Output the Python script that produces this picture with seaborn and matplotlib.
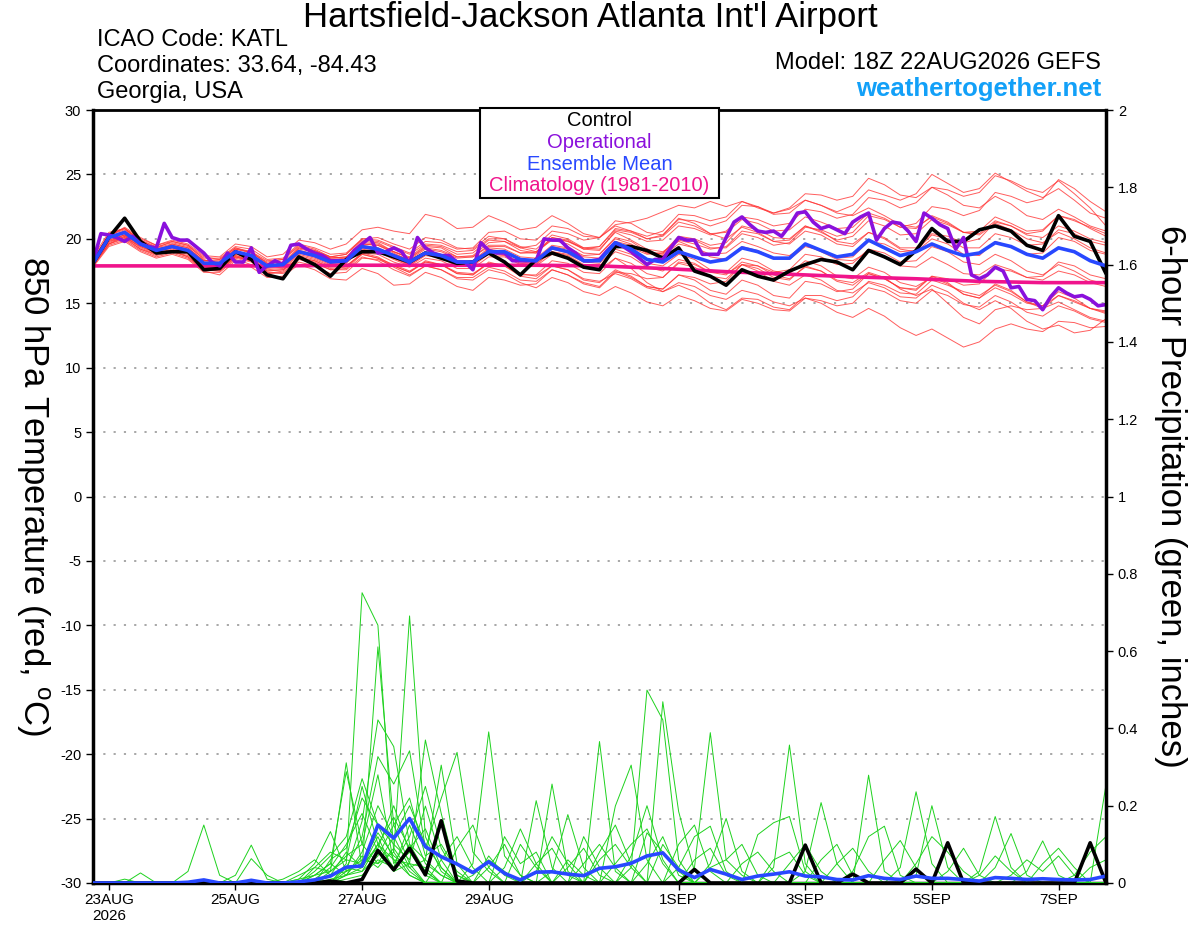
import matplotlib
matplotlib.use("Agg")
import matplotlib.pyplot as plt
import pandas as pd
import seaborn as sns
from matplotlib.patches import Rectangle

# GEFS 18Z 22AUG2026 run, 6-hourly steps out to 384 h
hours = list(range(0, 385, 6))
op_hours = list(range(0, 385, 3))      # operational run is 3-hourly
clim_hours = list(range(0, 385, 24))

tick_hours = [6, 54, 102, 150, 222, 270, 318, 366]
tick_labels = ["23AUG\n2026", "25AUG", "27AUG", "29AUG", "1SEP", "3SEP", "5SEP", "7SEP"]

# 850 hPa temperature, deg C
control_t = [18.1, 20.1, 21.6, 19.8, 18.9, 19.0, 19.0, 17.6, 17.7, 19.0, 18.4, 17.2, 16.9,
             18.6, 18.0, 17.1, 18.4, 19.0, 19.0, 18.6, 18.2, 18.9, 18.5, 18.1, 18.2, 18.9,
             18.2, 17.2, 18.4, 18.9, 18.5, 17.8, 17.6, 19.4, 19.4, 19.1, 18.5, 19.3, 17.5,
             17.1, 16.4, 17.6, 17.1, 16.8, 17.5, 18.0, 18.4, 18.2, 17.6, 19.1, 18.6, 18.0,
             19.1, 20.8, 19.8, 19.8, 20.7, 21.0, 20.6, 19.5, 19.1, 21.8, 20.2, 19.8, 17.3]

operational_t = [18.2, 20.4, 20.3, 20.1, 19.8, 20.2, 19.6, 19.4, 19.3, 21.2,
                 20.1, 19.9, 19.9, 19.4, 18.9, 18.2, 17.9, 18.9, 18.2, 18.2,
                 19.3, 17.4, 17.9, 18.3, 18.0, 19.5, 19.6, 19.2, 18.9, 18.7,
                 18.3, 18.3, 18.3, 19.1, 19.6, 20.1, 18.9, 19.0, 19.3, 19.0,
                 18.1, 20.1, 19.3, 18.9, 18.7, 18.7, 18.2, 18.2, 17.6, 19.7,
                 19.1, 18.9, 18.9, 18.3, 18.3, 18.3, 18.3, 20.0, 19.9, 19.9,
                 19.3, 18.9, 18.3, 18.3, 18.4,
                 19.1, 19.7, 19.4, 19.0, 18.5, 18.0, 18.4, 18.4, 19.3, 20.1,
                 19.9, 19.9, 18.8, 18.8, 18.8, 20.1, 21.3, 21.7, 21.1, 20.6,
                 20.5, 20.6, 20.2, 21.0, 22.0, 22.1, 21.3, 20.8, 21.0, 20.7,
                 20.4, 21.3, 21.7, 22.0, 19.9, 20.8, 21.3, 21.2, 20.6, 19.8,
                 22.0, 21.6, 21.1, 20.8, 19.2, 20.1, 17.2, 16.9, 17.2, 17.8,
                 17.5, 16.2, 16.3, 15.3, 15.2, 14.5, 15.5, 16.2, 15.8, 15.5,
                 15.6, 15.3, 14.8, 14.9]

mean_t = [18.1, 20.1, 20.5, 19.6, 19.1, 19.4, 19.1, 18.1, 18.1, 19.0, 18.7, 17.9, 18.0,
          19.0, 18.7, 18.2, 18.3, 19.4, 19.2, 18.7, 18.2, 18.9, 18.7, 18.2, 18.2, 19.0,
          19.0, 18.4, 18.3, 19.3, 19.0, 18.3, 18.3, 19.7, 19.2, 18.4, 18.2, 19.0, 18.6,
          18.2, 18.4, 19.3, 19.0, 18.5, 18.5, 19.6, 19.1, 18.6, 18.8, 19.9, 19.3, 18.7,
          19.0, 19.6, 19.1, 18.7, 18.9, 19.7, 19.4, 18.8, 18.5, 19.3, 19.0, 18.3, 17.9]

clim_t = [17.9, 17.9, 17.9, 17.9, 17.95, 17.95, 17.95, 17.95, 17.9, 17.7, 17.45,
          17.25, 17.05, 16.9, 16.7, 16.6, 16.6]

member_t = [
    [18.3, 20.4, 20.8, 19.9, 19.3, 19.8, 19.5, 18.4, 18.0, 19.2, 19.0, 18.1, 17.9,
     19.3, 19.1, 18.6, 18.5, 19.8, 19.7, 19.0, 18.5, 19.4, 19.3, 18.6, 18.7, 19.7, 19.8, 19.1, 18.9, 20.1, 19.9, 19.2, 19.1,
     20.6, 20.3, 19.8, 19.9, 21.0, 20.8, 20.3, 20.6, 21.7, 21.5, 21.0, 21.2, 22.3, 22.1, 21.6, 21.9,
     23.2, 23.0, 22.4, 22.8, 24.0, 23.8, 23.3, 23.6, 24.9, 24.5, 23.9, 23.6, 24.5, 23.5, 22.4, 21.0],
    [18.0, 19.6, 20.0, 19.2, 18.8, 19.0, 18.6, 17.6, 17.5, 18.5, 18.2, 17.3, 17.4,
     18.4, 18.1, 17.6, 17.7, 18.8, 18.5, 18.0, 17.5, 18.2, 18.0, 17.4, 17.3, 18.1, 18.0, 17.3, 17.1, 17.9, 17.6, 16.9, 16.7,
     17.3, 16.9, 16.2, 15.9, 16.6, 16.3, 15.6, 15.3, 16.0, 15.7, 15.1, 14.8, 15.4, 15.0, 14.3, 13.9,
     14.6, 14.0, 13.1, 12.5, 13.0, 12.3, 11.6, 12.0, 13.0, 13.4, 13.0, 12.8, 13.6, 13.5, 13.1, 13.2],
    [18.2, 20.0, 20.6, 19.8, 19.0, 19.6, 19.3, 18.3, 18.4, 19.3, 18.9, 18.2, 18.4,
     19.5, 19.2, 18.6, 18.8, 19.9, 19.8, 19.3, 18.8, 19.6, 19.5, 19.0, 19.1, 20.0, 20.0, 19.4, 19.2, 20.3, 20.0, 19.3, 19.2,
     20.5, 19.9, 19.2, 19.0, 19.8, 19.3, 18.8, 18.9, 19.8, 19.4, 18.9, 18.7, 19.5, 19.0, 18.4, 18.3,
     19.0, 18.6, 17.9, 17.8, 18.6, 18.0, 17.3, 17.2, 18.0, 17.6, 17.0, 16.8, 17.5, 17.2, 16.6, 16.3],
    [18.5, 20.2, 20.9, 20.1, 19.5, 19.9, 19.6, 18.7, 18.6, 19.6, 19.4, 18.6, 18.8,
     19.9, 19.7, 19.2, 19.6, 20.7, 20.9, 20.6, 20.4, 21.9, 21.6, 20.8, 20.9, 21.8, 21.3, 20.7, 20.9, 21.8, 21.2, 20.4, 20.1,
     21.0, 20.6, 20.0, 20.2, 21.3, 21.0, 20.4, 20.5, 21.5, 21.2, 20.6, 20.7, 21.7, 21.3, 20.8, 20.9,
     22.0, 21.6, 20.9, 20.8, 21.8, 21.3, 20.5, 20.4, 21.4, 21.0, 20.3, 20.1, 21.0, 20.6, 20.0, 19.7],
    [17.9, 19.5, 19.9, 19.1, 18.6, 18.9, 18.5, 17.5, 17.2, 18.3, 17.8, 17.0, 17.1,
     18.0, 17.6, 16.9, 16.8, 17.7, 17.3, 16.4, 16.5, 17.4, 17.0, 16.3, 16.0, 17.0, 16.8, 16.4, 16.5, 17.6, 17.2, 16.6, 16.3,
     17.5, 17.0, 16.3, 16.1, 17.2, 16.8, 16.0, 15.7, 16.8, 16.4, 15.6, 15.4, 16.7, 16.5, 15.9, 16.1,
     17.3, 16.9, 16.2, 16.0, 17.1, 16.6, 15.7, 15.4, 16.5, 16.0, 15.1, 14.8, 15.9, 15.4, 14.6, 14.2],
    [18.1, 19.9, 20.3, 19.5, 19.2, 19.5, 19.2, 18.3, 18.2, 19.0, 18.8, 18.0, 18.1,
     19.1, 18.8, 18.4, 18.5, 19.5, 19.3, 18.8, 18.4, 19.2, 19.0, 18.5, 18.6, 19.4, 19.4, 18.9, 18.9, 20.0, 19.8, 19.3, 19.4,
     20.8, 20.6, 20.2, 20.6, 21.9, 21.8, 21.4, 21.7, 22.9, 22.5, 21.9, 22.0, 23.0, 22.6, 22.1, 22.6,
     23.8, 23.4, 23.0, 23.5, 25.0, 24.3, 23.6, 23.9, 25.1, 24.4, 23.7, 23.2, 23.9, 23.0, 22.0, 21.6],
    [18.0, 19.8, 20.1, 19.4, 18.9, 19.1, 18.8, 17.9, 17.8, 18.7, 18.4, 17.7, 17.8,
     18.8, 18.5, 18.0, 18.1, 19.2, 19.0, 18.4, 17.9, 18.7, 18.5, 17.9, 17.9, 18.8, 18.7, 18.1, 18.0, 19.0, 18.7, 18.0, 17.9,
     19.0, 18.6, 17.8, 17.5, 18.4, 18.1, 17.4, 17.2, 18.2, 17.9, 17.2, 16.9, 17.8, 17.5, 16.8, 16.6,
     17.4, 17.0, 16.1, 15.6, 16.1, 15.0, 13.9, 13.4, 14.5, 14.8, 14.5, 14.6, 15.6, 15.2, 14.6, 14.3],
    [18.3, 20.1, 20.4, 19.7, 19.2, 19.4, 19.0, 18.1, 17.9, 18.8, 18.5, 17.8, 17.9,
     18.9, 18.7, 18.3, 18.4, 19.6, 19.5, 18.9, 18.3, 19.0, 18.8, 18.3, 18.3, 19.3, 19.2, 18.6, 18.5, 19.5, 19.3, 18.7, 18.8,
     20.1, 19.8, 19.0, 18.8, 19.9, 19.6, 19.2, 19.4, 20.6, 20.4, 19.8, 19.9, 21.0, 20.5, 19.9, 20.2,
     21.4, 21.0, 20.3, 20.4, 21.5, 21.1, 20.5, 20.6, 21.7, 21.2, 20.6, 20.7, 21.8, 21.4, 20.9, 20.4],
    [18.2, 19.7, 20.2, 19.3, 18.8, 19.1, 18.9, 17.8, 17.7, 18.6, 18.3, 17.5, 17.6,
     18.5, 18.3, 17.8, 17.9, 18.9, 18.8, 18.2, 17.8, 18.5, 18.3, 17.7, 17.7, 18.6, 18.6, 18.0, 17.9, 18.8, 18.5, 17.8, 17.6,
     18.5, 17.7, 16.6, 15.9, 16.4, 15.9, 15.0, 14.5, 15.4, 15.3, 14.7, 14.5, 15.6, 15.6, 15.2, 15.5,
     16.7, 16.4, 15.8, 15.7, 16.8, 16.4, 15.9, 15.6, 16.4, 15.9, 15.1, 14.6, 15.1, 14.5, 13.9, 13.6],
    [18.4, 20.3, 20.7, 19.9, 19.4, 19.7, 19.4, 18.5, 18.5, 19.4, 19.2, 18.4, 18.5,
     19.6, 19.3, 18.8, 18.9, 20.0, 19.9, 19.4, 18.9, 19.8, 19.7, 19.2, 19.3, 20.5, 20.6, 20.0, 19.9, 21.0, 20.8, 20.2, 20.1,
     21.4, 21.2, 20.5, 20.3, 21.6, 21.2, 20.4, 20.0, 20.9, 20.5, 19.8, 19.6, 20.6, 20.3, 19.6, 19.4,
     20.5, 20.0, 19.2, 19.0, 20.0, 19.6, 18.8, 18.7, 19.8, 19.4, 18.8, 18.9, 20.1, 19.8, 19.1, 18.8],
    [17.8, 19.4, 19.8, 19.0, 18.5, 18.8, 18.4, 17.4, 17.4, 18.4, 18.0, 17.3, 17.5,
     18.6, 18.3, 17.7, 17.8, 18.9, 18.6, 17.9, 17.4, 18.3, 18.0, 17.3, 17.2, 18.2, 17.9, 17.1, 16.9, 17.9, 17.6, 16.8, 16.6,
     17.6, 17.1, 16.3, 16.1, 17.2, 17.0, 16.5, 16.7, 18.0, 17.9, 17.4, 17.6, 18.8, 18.6, 18.0, 18.1,
     19.2, 18.9, 18.2, 18.3, 19.4, 19.0, 18.2, 18.0, 18.8, 18.3, 17.5, 17.2, 18.0, 17.5, 16.8, 16.5],
    [18.1, 20.0, 20.5, 19.6, 19.0, 19.3, 19.0, 18.0, 18.1, 19.1, 18.7, 17.9, 18.0,
     19.0, 18.6, 18.1, 18.2, 19.3, 19.2, 18.6, 18.1, 18.9, 18.7, 18.1, 18.2, 19.1, 19.0, 18.4, 18.4, 19.4, 19.2, 18.6, 18.5,
     19.8, 19.5, 18.9, 18.9, 20.1, 19.9, 19.3, 19.3, 20.4, 20.1, 19.5, 19.7, 20.9, 20.7, 20.2, 20.5,
     21.8, 21.5, 20.9, 21.2, 22.5, 22.3, 21.8, 22.2, 23.6, 23.3, 22.8, 23.1, 24.6, 23.9, 22.9, 22.1],
    [18.0, 19.6, 20.1, 19.2, 18.7, 19.0, 18.7, 17.7, 17.6, 18.6, 18.3, 17.6, 17.7,
     18.7, 18.4, 17.9, 17.9, 18.8, 18.5, 17.8, 17.2, 17.9, 17.6, 16.9, 16.8, 17.6, 17.3, 16.6, 16.2, 17.0, 16.6, 15.9, 15.6,
     16.3, 15.8, 15.1, 14.8, 15.6, 15.2, 14.6, 14.4, 15.3, 15.0, 14.5, 14.4, 15.4, 15.2, 14.8, 15.0,
     16.2, 15.9, 15.2, 15.0, 16.0, 15.6, 14.9, 14.7, 15.6, 15.1, 14.3, 14.0, 14.8, 14.4, 13.8, 13.5],
    [18.4, 20.2, 20.6, 19.8, 19.3, 19.6, 19.3, 18.3, 18.3, 19.2, 18.9, 18.1, 18.2,
     19.3, 19.0, 18.5, 18.6, 19.7, 19.6, 19.0, 18.6, 19.5, 19.4, 18.8, 18.9, 19.9, 19.8, 19.3, 19.5, 20.6, 20.4, 19.9, 20.1,
     21.1, 21.3, 21.6, 22.1, 22.6, 22.4, 22.9, 22.5, 22.9, 22.4, 22.0, 22.3, 23.0, 22.6, 22.0, 21.8,
     22.4, 21.8, 21.1, 20.9, 21.7, 21.2, 20.5, 20.3, 21.2, 20.7, 20.0, 19.7, 20.5, 20.0, 19.3, 18.9],
    [18.2, 19.9, 20.3, 19.5, 19.0, 19.3, 18.9, 17.9, 17.9, 18.9, 18.6, 17.9, 18.1,
     19.1, 18.8, 18.2, 18.3, 19.4, 19.1, 18.5, 18.0, 18.8, 18.6, 18.0, 18.0, 18.9, 18.8, 18.2, 18.1, 19.0, 18.8, 18.2, 18.1,
     19.2, 18.8, 18.1, 17.9, 18.8, 18.4, 17.6, 17.3, 18.0, 17.5, 16.7, 16.4, 17.2, 16.8, 16.0, 15.8,
     16.6, 16.2, 15.5, 15.4, 16.4, 15.9, 15.0, 14.5, 15.2, 14.6, 13.6, 13.0, 13.3, 12.7, 12.9, 13.8],
    [18.3, 20.3, 20.8, 20.0, 19.5, 19.8, 19.5, 18.6, 18.4, 19.3, 19.0, 18.3, 18.4,
     19.4, 19.1, 18.5, 18.6, 19.6, 19.5, 19.0, 18.5, 19.3, 19.1, 18.6, 18.6, 19.5, 19.5, 18.9, 19.0, 20.1, 19.8, 19.2, 19.4,
     20.7, 20.5, 20.0, 20.3, 21.5, 21.4, 21.0, 21.4, 22.6, 22.5, 22.0, 22.4, 23.5, 23.4, 23.0, 23.3,
     24.7, 24.2, 23.4, 23.2, 24.0, 23.4, 22.6, 22.4, 23.3, 22.7, 21.8, 21.5, 22.3, 21.7, 21.0, 20.6],
    [17.9, 19.6, 20.2, 19.4, 18.9, 19.1, 18.6, 17.6, 17.5, 18.6, 18.3, 17.4, 17.3,
     18.2, 17.9, 17.3, 17.4, 18.5, 18.4, 17.9, 17.4, 18.2, 18.0, 17.3, 17.2, 18.1, 17.9, 17.2, 17.2, 18.3, 18.1, 17.4, 17.3,
     18.5, 18.1, 17.3, 17.0, 18.1, 17.8, 17.1, 16.9, 18.0, 17.7, 17.0, 16.8, 17.9, 17.5, 16.7, 16.4,
     17.3, 16.9, 16.2, 16.1, 17.1, 16.9, 16.4, 16.5, 17.7, 17.5, 17.0, 17.1, 18.2, 17.9, 17.2, 16.9],
    [18.6, 20.5, 20.8, 19.8, 19.2, 19.5, 19.1, 18.2, 18.1, 19.0, 18.6, 17.8, 18.0,
     19.2, 19.0, 18.6, 18.8, 20.0, 20.1, 19.6, 19.2, 20.1, 19.9, 19.3, 19.2, 20.2, 20.0, 19.3, 19.0, 19.9, 19.6, 18.9, 18.8,
     20.0, 19.6, 18.9, 18.7, 19.6, 19.3, 18.6, 18.4, 19.4, 19.1, 18.5, 18.4, 19.4, 19.1, 18.5, 18.6,
     19.8, 19.6, 19.0, 19.1, 20.3, 20.0, 19.3, 19.3, 20.4, 20.1, 19.5, 19.6, 20.7, 20.4, 19.8, 19.5],
    [18.0, 19.8, 20.3, 19.5, 18.9, 19.2, 18.9, 17.9, 17.8, 18.7, 18.3, 17.5, 17.6,
     18.5, 18.2, 17.6, 17.6, 18.6, 18.3, 17.6, 17.1, 17.9, 17.6, 17.0, 17.0, 17.8, 17.5, 16.8, 16.7, 17.6, 17.2, 16.5, 16.2,
     17.4, 17.3, 16.9, 17.0, 18.2, 18.0, 17.4, 17.4, 18.5, 18.2, 17.5, 17.3, 18.3, 17.9, 17.1, 16.9,
     17.8, 17.4, 16.6, 16.3, 17.0, 16.5, 15.7, 15.4, 16.2, 15.7, 15.0, 14.8, 15.6, 15.1, 14.6, 14.4],
    [18.2, 20.1, 20.5, 19.7, 19.2, 19.4, 19.1, 18.1, 18.0, 19.0, 18.7, 17.9, 17.9,
     18.9, 18.6, 18.1, 18.2, 19.3, 19.1, 18.5, 18.0, 18.8, 18.6, 18.1, 18.2, 19.2, 19.0, 18.3, 18.2, 19.2, 18.9, 18.3, 18.3,
     19.6, 19.3, 18.8, 18.9, 20.2, 20.0, 19.5, 19.7, 21.0, 20.7, 20.1, 20.0, 21.0, 20.6, 19.8, 19.6,
     20.5, 20.1, 19.3, 19.3, 20.4, 20.2, 19.7, 20.0, 21.3, 21.0, 20.4, 20.6, 21.8, 21.5, 20.8, 20.2],
]

# 6-hour precipitation, inches
control_p = [0, 0, 0, 0, 0, 0, 0, 0, 0, 0, 0, 0, 0, 0, 0, 0.005, 0, 0.009, 0.084, 0.034,
             0.090, 0.021, 0.161, 0.005, 0, 0, 0, 0, 0, 0, 0, 0, 0, 0, 0, 0, 0, 0, 0.035, 0,
             0, 0, 0, 0, 0, 0.098, 0, 0, 0.023, 0, 0, 0, 0.036, 0, 0.104, 0, 0, 0, 0, 0,
             0, 0, 0, 0.104, 0]

mean_p = [0, 0, 0, 0, 0, 0, 0.002, 0.008, 0, 0, 0.007, 0, 0, 0.003, 0.008, 0.018, 0.041,
          0.044, 0.150, 0.116, 0.167, 0.094, 0.068, 0.049, 0.027, 0.055, 0.025, 0.008, 0.028,
          0.029, 0.023, 0.019, 0.038, 0.042, 0.051, 0.070, 0.078, 0.034, 0.014, 0.035, 0.023,
          0.009, 0.018, 0.023, 0.029, 0.018, 0.016, 0.009, 0.008, 0.019, 0.012, 0.009, 0.018,
          0.012, 0.012, 0.009, 0.005, 0.014, 0.012, 0.009, 0.011, 0.009, 0.008, 0.009, 0.018]

# members: {step index: amount}, zero elsewhere
member_p = [
    {16: 0.05, 17: 0.751, 18: 0.667, 19: 0.08, 20: 0.02, 25: 0.04, 26: 0.1, 27: 0.02, 35: 0.05,
     36: 0.12, 37: 0.02, 45: 0.03, 46: 0.208, 47: 0.05, 57: 0.04, 58: 0.128, 59: 0.02},
    {15: 0.03, 16: 0.311, 17: 0.04, 18: 0.611, 19: 0.15, 20: 0.05, 21: 0.37, 22: 0.18, 23: 0.02,
     32: 0.366, 33: 0.03, 39: 0.05, 40: 0.167, 41: 0.03, 52: 0.02, 53: 0.2, 54: 0.04},
    {14: 0.02, 15: 0.05, 16: 0.288, 17: 0.1, 18: 0.05, 19: 0.08, 20: 0.691, 21: 0.12, 22: 0.03,
     28: 0.213, 29: 0.04, 34: 0.04, 35: 0.499, 36: 0.422, 37: 0.06, 49: 0.279, 50: 0.03, 64: 0.254},
    {13: 0.01, 14: 0.05, 15: 0.133, 16: 0.03, 17: 0.16, 18: 0.422, 19: 0.353, 20: 0.1, 21: 0.06,
     22: 0.305, 23: 0.05, 38: 0.04, 39: 0.389, 40: 0.06, 41: 0.02},
    {6: 0.03, 7: 0.15, 8: 0.02, 16: 0.04, 17: 0.12, 18: 0.327, 19: 0.256, 20: 0.342, 21: 0.09,
     22: 0.219, 23: 0.338, 24: 0.08, 25: 0.03, 43: 0.04, 44: 0.357, 45: 0.05},
    {9: 0.02, 10: 0.098, 11: 0.01, 16: 0.02, 17: 0.08, 18: 0.2, 19: 0.12, 20: 0.04, 24: 0.05,
     25: 0.391, 26: 0.07, 27: 0.02, 36: 0.469, 37: 0.185, 38: 0.03, 51: 0.04, 52: 0.236, 53: 0.05},
    {10: 0.063, 11: 0.02, 15: 0.06, 16: 0.09, 17: 0.22, 18: 0.15, 19: 0.1, 20: 0.06, 21: 0.199,
     22: 0.06, 29: 0.256, 30: 0.03, 42: 0.125, 43: 0.156, 44: 0.172, 45: 0.03},
    {3: 0.026, 14: 0.03, 15: 0.07, 16: 0.12, 17: 0.27, 18: 0.15, 19: 0.06, 20: 0.05, 29: 0.03,
     30: 0.177, 31: 0.04, 33: 0.199, 34: 0.305, 35: 0.06, 48: 0.03, 49: 0.12, 50: 0.147, 51: 0.02},
    {2: 0.01, 15: 0.02, 16: 0.08, 17: 0.04, 18: 0.1, 19: 0.04, 20: 0.15, 21: 0.05, 22: 0.02,
     37: 0.04, 38: 0.12, 39: 0.147, 40: 0.03, 56: 0.03, 57: 0.172, 58: 0.04},
    {14: 0.04, 15: 0.08, 16: 0.06, 17: 0.25, 18: 0.1, 19: 0.17, 20: 0.09, 21: 0.14, 22: 0.04,
     26: 0.12, 27: 0.05, 28: 0.08, 32: 0.06, 33: 0.1, 34: 0.04, 59: 0.03, 60: 0.109, 61: 0.02},
    {16: 0.03, 17: 0.05, 18: 0.09, 19: 0.2, 20: 0.08, 21: 0.03, 23: 0.09, 24: 0.15, 25: 0.04,
     30: 0.06, 31: 0.02, 35: 0.13, 36: 0.08, 37: 0.03, 46: 0.06, 47: 0.1, 48: 0.02, 62: 0.02,
     63: 0.08, 64: 0.12},
    {15: 0.02, 16: 0.03, 17: 0.06, 18: 0.05, 19: 0.12, 20: 0.2, 21: 0.1, 22: 0.04, 27: 0.1,
     28: 0.04, 31: 0.12, 32: 0.04, 41: 0.05, 42: 0.08, 43: 0.03, 54: 0.03, 55: 0.09, 56: 0.02},
    {13: 0.02, 14: 0.04, 15: 0.03, 16: 0.07, 17: 0.1, 18: 0.28, 19: 0.05, 20: 0.12, 21: 0.25,
     22: 0.09, 23: 0.02, 33: 0.05, 34: 0.1, 35: 0.14, 36: 0.05, 50: 0.06, 51: 0.11, 52: 0.04},
    {12: 0.01, 13: 0.03, 14: 0.06, 15: 0.02, 16: 0.04, 17: 0.03, 18: 0.07, 19: 0.15, 20: 0.22,
     21: 0.07, 22: 0.1, 23: 0.03, 28: 0.05, 29: 0.09, 30: 0.02, 38: 0.06, 39: 0.09, 40: 0.02,
     44: 0.05, 45: 0.1, 46: 0.03},
    {16: 0.02, 17: 0.04, 18: 0.12, 19: 0.03, 20: 0.05, 21: 0.04, 25: 0.07, 26: 0.02, 32: 0.08,
     33: 0.15, 34: 0.05, 36: 0.1, 37: 0.04, 58: 0.02, 59: 0.06, 60: 0.03, 61: 0.07, 62: 0.02},
    {14: 0.01, 15: 0.04, 16: 0.1, 17: 0.18, 18: 0.08, 19: 0.03, 20: 0.1, 21: 0.03, 24: 0.02,
     25: 0.06, 26: 0.03, 30: 0.04, 31: 0.09, 32: 0.02, 47: 0.05, 48: 0.09, 49: 0.03},
    {15: 0.01, 16: 0.02, 17: 0.07, 18: 0.04, 19: 0.09, 20: 0.03, 22: 0.06, 23: 0.12, 24: 0.04,
     34: 0.07, 35: 0.2, 36: 0.06, 52: 0.05, 53: 0.12, 54: 0.08, 55: 0.03},
    {16: 0.01, 17: 0.02, 18: 0.06, 19: 0.04, 20: 0.08, 21: 0.02, 28: 0.03, 29: 0.12, 30: 0.05,
     39: 0.04, 40: 0.06, 41: 0.1, 42: 0.02, 60: 0.05, 61: 0.09, 62: 0.04},
    {13: 0.01, 14: 0.02, 15: 0.05, 16: 0.02, 17: 0.03, 18: 0.1, 19: 0.06, 20: 0.02, 26: 0.04,
     27: 0.14, 28: 0.05, 37: 0.1, 38: 0.15, 39: 0.03, 56: 0.02, 57: 0.07, 58: 0.03},
    {14: 0.02, 15: 0.03, 16: 0.06, 17: 0.05, 18: 0.13, 19: 0.07, 20: 0.04, 21: 0.06, 22: 0.02,
     31: 0.05, 32: 0.1, 33: 0.04, 43: 0.06, 44: 0.08, 45: 0.02, 63: 0.04, 64: 0.06},
]

RED = "#ff3535"
GREEN = "#1ed21e"
PURPLE = "#8a10dc"
BLUE = "#2848ff"
PINK = "#f0148c"

for row in member_t:
    assert len(row) == len(hours)

temp_df = pd.DataFrame(
    [(m, h, v) for m, row in enumerate(member_t) for h, v in zip(hours, row)],
    columns=["member", "hour", "temp"])
precip_df = pd.DataFrame(
    [(m, h, peaks.get(i, 0.0)) for m, peaks in enumerate(member_p) for i, h in enumerate(hours)],
    columns=["member", "hour", "precip"])

sns.set_theme(style="ticks", rc={
    "axes.edgecolor": "black", "xtick.color": "black", "ytick.color": "black",
    "text.color": "black", "axes.labelcolor": "black"})
plt.rcParams["font.family"] = ["Liberation Sans", "DejaVu Sans"]
plt.rcParams["mathtext.default"] = "regular"
plt.rcParams["axes.unicode_minus"] = False

fig = plt.figure(figsize=(12, 9.27), dpi=100)
ax = fig.add_axes([93 / 1200, 1 - 883 / 927, (1106 - 93) / 1200, (883 - 110) / 927])

# temperature: members, climatology, control, operational, mean
sns.lineplot(data=temp_df, x="hour", y="temp", units="member", estimator=None,
             color=RED, lw=0.7, alpha=0.8, legend=False, ax=ax)
sns.lineplot(x=clim_hours, y=clim_t, color=PINK, lw=2.6, ax=ax)
sns.lineplot(x=hours, y=control_t, color="black", lw=2.6, ax=ax)
sns.lineplot(x=op_hours, y=operational_t, color=PURPLE, lw=2.6, ax=ax)
sns.lineplot(x=hours, y=mean_t, color=BLUE, lw=2.6, ax=ax)

ax.set_xlim(0, 384)
ax.set_ylim(-30, 30)
ax.set_yticks(range(-30, 31, 5))
ax.set_xticks(tick_hours)
ax.set_xticklabels(tick_labels, fontsize=11)
ax.tick_params(axis="y", labelsize=10.5, length=5, width=1, direction="out")
ax.tick_params(axis="x", length=5, width=1, direction="out", pad=2)
ax.set_xlabel("")
ax.set_ylabel("")
ax.yaxis.grid(True, linestyle=(0, (1.2, 4.5)), color="#a0a0a0", lw=1.3)
for side in ["left", "bottom"]:
    ax.spines[side].set_linewidth(2.5)
ax.spines["top"].set_linewidth(2.0)
ax.spines["right"].set_visible(False)

# precipitation on the right axis
ax2 = ax.twinx()
sns.lineplot(data=precip_df, x="hour", y="precip", units="member", estimator=None,
             color=GREEN, lw=0.7, legend=False, ax=ax2)
sns.lineplot(x=hours, y=control_p, color="black", lw=2.6, ax=ax2)
sns.lineplot(x=hours, y=mean_p, color=BLUE, lw=2.6, ax=ax2)
ax2.set_ylim(0, 2)
ax2.set_xlim(0, 384)
ax2.set_yticks([i / 5 for i in range(11)])
ax2.set_yticklabels([f"{i / 5:g}" for i in range(11)])
ax2.tick_params(axis="y", labelsize=10.5, length=5, width=1, direction="out")
ax2.set_ylabel("")
ax2.set_xlabel("")
for side in ["left", "top", "bottom"]:
    ax2.spines[side].set_visible(False)
ax2.spines["right"].set_linewidth(2.5)

# axis titles (both read top to bottom)
mid_y = 1 - (110 + 883) / 2 / 927
fig.text(33 / 1200, mid_y, "850 hPa Temperature (red, $^{o}$C)", rotation=270,
         ha="center", va="center", fontsize=25)
fig.text(1170 / 1200, mid_y, "6-hour Precipitation (green, inches)", rotation=270,
         ha="center", va="center", fontsize=25)

# header
fig.text(590 / 1200, 1 - 18 / 927, "Hartsfield-Jackson Atlanta Int'l Airport",
         ha="center", va="center", fontsize=25)
for k, line in enumerate(["ICAO Code: KATL", "Coordinates: 33.64, -84.43", "Georgia, USA"]):
    fig.text(97 / 1200, 1 - (40 + 26 * k) / 927, line, ha="left", va="center", fontsize=17)
fig.text(1101 / 1200, 1 - 63 / 927, "Model: 18Z 22AUG2026 GEFS",
         ha="right", va="center", fontsize=17)
fig.text(1101 / 1200, 1 - 89 / 927, "weathertogether.net", ha="right", va="center",
         fontsize=18.5, fontweight="bold", color="#12a0f8")

# legend box
fig.add_artist(Rectangle((480 / 1200, 1 - 198 / 927), 239 / 1200, 90 / 927,
                         transform=fig.transFigure, facecolor="white",
                         edgecolor="black", lw=1.5, zorder=10))
legend_items = [("Control", "black"), ("Operational", PURPLE),
                ("Ensemble Mean", BLUE), ("Climatology (1981-2010)", PINK)]
for k, (name, col) in enumerate(legend_items):
    fig.text(599.5 / 1200, 1 - (121 + 21.5 * k) / 927, name, ha="center", va="center",
             fontsize=14.5, color=col, zorder=11)

fig.savefig("out.png", dpi=100)
